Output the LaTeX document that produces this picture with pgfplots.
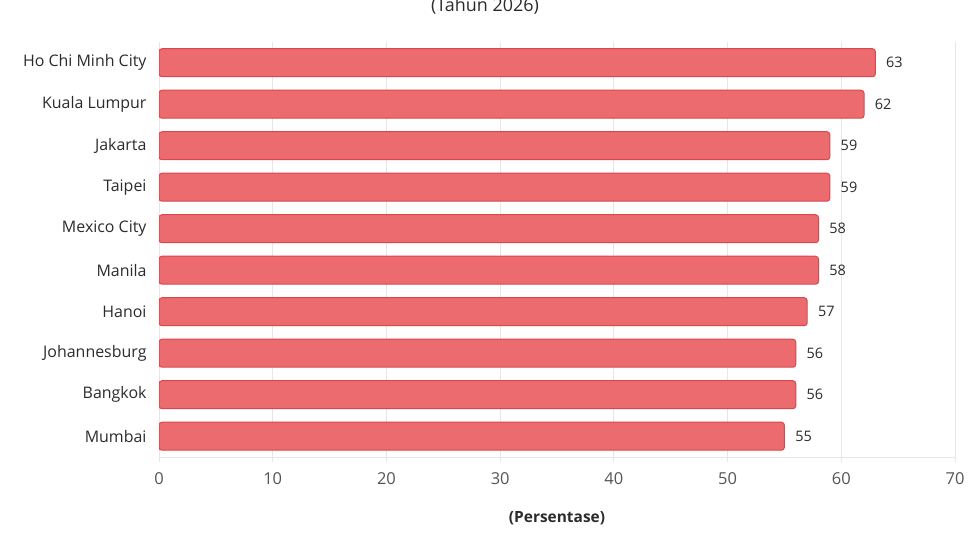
\documentclass[border=0pt]{standalone}
\usepackage{fontspec}
\setmainfont{Open Sans}
\usepackage{pgfplots}
\pgfplotsset{compat=1.18}
\definecolor{barfill}{HTML}{EC6B6E}
\definecolor{barline}{HTML}{D9474C}
\definecolor{gridc}{HTML}{E6E6E6}
\definecolor{txt}{HTML}{2B2B2B}
\definecolor{ticktxt}{HTML}{555555}
\begin{document}
\begin{tikzpicture}[x=1bp,y=1bp]
\path[use as bounding box] (0,0) rectangle (968,543);
\node[font=\fontsize{18}{20}\selectfont, text=txt, anchor=base] at (485,531) {(Tahun 2026)};
\begin{axis}[
    at={(159bp,86bp)}, anchor=south west,
    scale only axis, width=796bp, height=415bp,
    xbar, bar width=28bp,
    xmin=0, xmax=70, ymin=-0.5, ymax=9.5,
    y dir=reverse,
    ytick={0,...,9},
    yticklabels={Ho Chi Minh City, Kuala Lumpur, Jakarta, Taipei, Mexico City, Manila, Hanoi, Johannesburg, Bangkok, Mumbai},
    xtick={0,10,...,70},
    axis x line*=bottom, axis y line*=left,
    x axis line style={gridc, thick},
    y axis line style={draw=none},
    xmajorgrids, grid style={gridc, thick},
    tick align=outside,
    major x tick style={gridc, thick}, major tick length=5bp,
    ytick style={draw=none},
    /pgf/number format/assume math mode=true,
    xticklabel style={font=\fontsize{16.5}{18}\selectfont, text=ticktxt, yshift=-7bp},
    yticklabel style={font=\fontsize{16}{18}\selectfont, text=txt, xshift=-4bp},
    xlabel={\textbf{(Persentase)}},
    xlabel style={font=\fontsize{15.5}{17}\selectfont, text=txt, yshift=-20bp},
    nodes near coords,
    nodes near coords style={anchor=west, xshift=7bp, font=\fontsize{14.5}{16}\selectfont, text=txt},
    every node near coord/.append style={/pgf/number format/assume math mode=true},
]
\addplot[fill=barfill, draw=barline, line width=1bp, rounded corners=3bp]
    coordinates {(63,0) (62,1) (59,2) (59,3) (58,4) (58,5) (57,6) (56,7) (56,8) (55,9)};
\end{axis}
\end{tikzpicture}
\end{document}
